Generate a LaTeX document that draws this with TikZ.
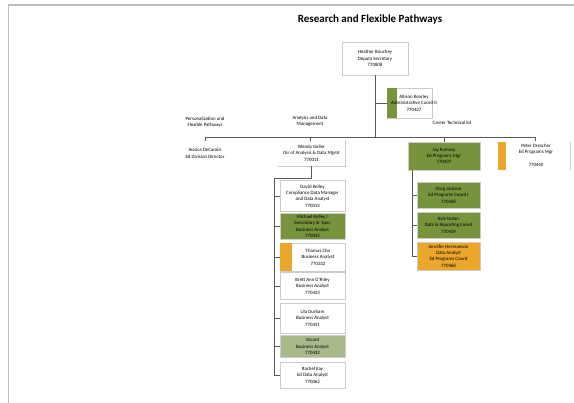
\documentclass[tikz,border=0pt]{standalone}
\usepackage{fontspec}
\setmainfont{Carlito}
\definecolor{ogreen}{HTML}{77933C}
\definecolor{sage}{HTML}{A8B98A}
\definecolor{orng}{HTML}{EBA62C}
\definecolor{lnk}{HTML}{595959}
\tikzset{
  txt/.style={align=center,font=\fontsize{4.9}{6.4}\selectfont,inner sep=0pt},
  pbox/.style={txt,draw=gray!40,line width=0.5pt,fill=white},
  gbox/.style={txt,draw=gray!40,line width=0.5pt,fill=ogreen},
  sbox/.style={txt,draw=gray!40,line width=0.5pt,fill=sage},
  obox/.style={txt,draw=gray!40,line width=0.5pt,fill=orng},
  lnkline/.style={draw=lnk,line width=0.6pt},
  frame/.style={draw=gray!50,line width=1.6pt}
}
\begin{document}
\begin{tikzpicture}[x=1pt,y=-1pt]
\useasboundingbox (0,0) rectangle (574,403);
\fill[white] (0,0) rectangle (574,403);
% page frame
\draw[frame] (8.5,403) -- (8.5,5) -- (574,5);
% title
\node[font=\bfseries\fontsize{11}{13}\selectfont,inner sep=0pt] (title) at (370,20) {Research and Flexible Pathways};
% top
\node[pbox,minimum width=66pt,minimum height=33pt] (top) at (375,58.5) {Heather Bouchey\\Deputy Secretary\\770808};
% assistant
\node[pbox,minimum width=45pt,minimum height=30pt] (asst) at (409.5,103) {};
\fill[ogreen] (asst.north west) rectangle ([xshift=10pt]asst.south west);
\node[txt] (assttxt) at (414,103) {Allison Kearley\\Administrative Coord II\\770427};
% bar
\coordinate (barL) at (205,137);
\coordinate (barR) at (535,137);
\draw[lnkline] (top.south) -- (top.south |- barL);
\draw[lnkline] (asst.west) -- (asst.west -| top.south);
\draw[lnkline] (barL) -- (barR);
% group labels
\node[txt] (lblP) at (205,122) {Personalization and\\Flexible Pathways};
\node[txt] (lblA) at (310,121) {Analysis and Data\\Management};
\node[txt] (lblC) at (452,123) {Career Technical Ed};
% Jessica
\node[txt] (jess) at (205,153.5) {Jessica DeCarolis\\Ed Division Director};
\draw[lnkline] (barL) -- ++(0,4);
% Wendy
\node[pbox,draw=none,minimum width=67pt,minimum height=26pt] (wendy) at (311.5,153) {Wendy Geller\\Dir of Analysis \& Data Mgmt\\770011};
\draw[draw=gray!40,line width=0.5pt] (wendy.north east) -- (wendy.south east) -- (wendy.south west);
\draw[lnkline] (310,137) -- ++(0,4);
% Wendy children
\node[pbox,minimum width=65pt,minimum height=31pt] (c1) at (312.5,196) {David Kelley\\Compliance Data Manager\\and Data Analyst\\770012};
\node[gbox,minimum width=65pt,minimum height=26pt] (c2) at (312.5,226.5) {Michael Kelley /\\Secondary Sr Spec\\Business Analyst\\770042};
\node[pbox,minimum width=65pt,minimum height=28pt] (c3) at (312.5,257) {};
\fill[orng] (c3.north west) rectangle ([xshift=12pt]c3.south west);
\node[txt] (c3txt) at (318,257) {Thomas Cho\\Business Analyst\\770332};
\node[pbox,minimum width=65pt,minimum height=27pt] (c4) at (312.5,286) {Brett Ann O'Riley\\Business Analyst\\770433};
\node[pbox,minimum width=65pt,minimum height=30pt] (c5) at (312.5,318) {Lila Durham\\Business Analyst\\770431};
\node[sbox,minimum width=65pt,minimum height=22pt] (c6) at (312.5,346.5) {Vacant\\Business Analyst\\770432};
\node[pbox,minimum width=65pt,minimum height=26pt] (c7) at (312.5,375) {Rachel Kay\\Ed Data Analyst\\770062};
\coordinate (wsp) at (274,178);
\draw[lnkline] (wendy.south) -- (wendy.south |- wsp) -- (wsp) -- (wsp |- c7.west);
\foreach \c in {c1,c2,c3,c4,c5,c6,c7} \draw[lnkline] (\c.west -| wsp) -- (\c.west);
% Jay
\node[gbox,minimum width=72pt,minimum height=28pt] (jay) at (444,156) {Jay Ramsey\\Ed Programs Mgr\\770437};
\draw[lnkline] (jay.north |- barL) -- (jay.north);
\node[gbox,minimum width=63pt,minimum height=26pt] (j1) at (448.5,195) {Greg Jackson\\Ed Programs Coord I\\770438};
\node[gbox,minimum width=63pt,minimum height=26pt] (j2) at (448.5,225) {Kyle Nolan\\Data \& Reporting Coord\\770439};
\node[obox,minimum width=63pt,minimum height=28pt] (j3) at (448.5,256) {Jennifer Hermanson\\Data Analyst\\Ed Programs Coord\\770468};
\coordinate (jsp) at (412,170);
\draw[lnkline] (jsp) -- (jsp |- j3.west);
\foreach \c in {j1,j2,j3} \draw[lnkline] (\c.west -| jsp) -- (\c.west);
% Peter
\node[pbox,draw=none,minimum width=72pt,minimum height=28pt] (peter) at (534,156) {};
\draw[draw=gray!40,line width=0.5pt] (peter.north east) -- (peter.south east);
\fill[orng] (peter.north west) rectangle ([xshift=8pt]peter.south west);
\node[txt] (petertxt) at (536,155) {Peter Drescher\\Ed Programs Mgr\\\\770440};
\draw[lnkline] (barR) -- ++(0,4);
\end{tikzpicture}
\end{document}
